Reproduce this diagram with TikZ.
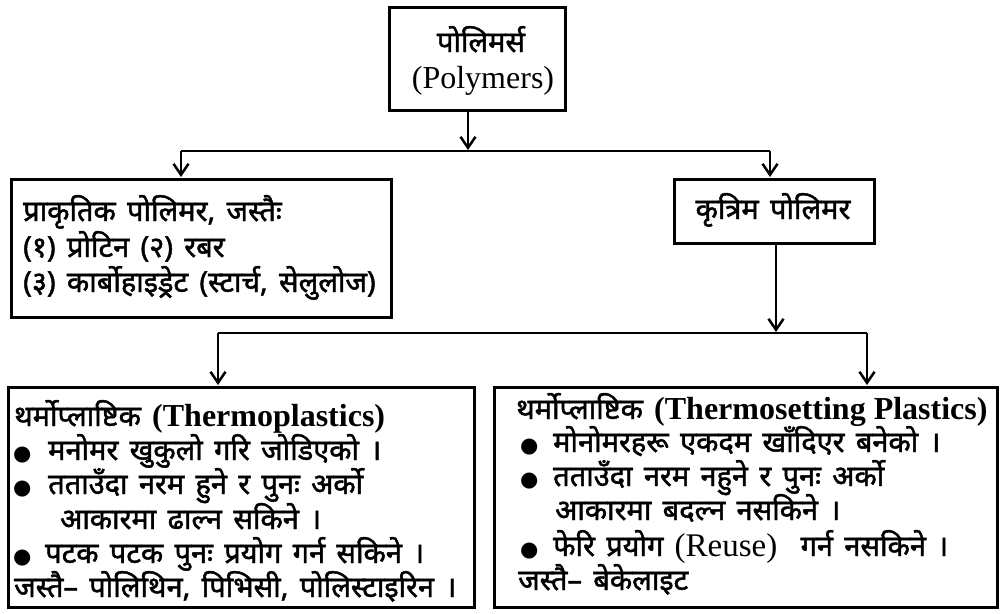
\documentclass[tikz,border=0pt]{standalone}
\usepackage{fontspec}
\setmainfont{Liberation Serif}
\newfontfamily\dev[Script=Devanagari, FakeBold=1.6, WordSpace=1.5]{Noto Sans}
\newfontfamily\sym{DejaVu Sans}
\usetikzlibrary{arrows.meta}
\tikzset{
  box/.style={draw, line width=3pt, inner sep=0pt, anchor=north west},
  ln/.style={anchor=base west, inner sep=0pt, font=\dev\fontsize{29}{32}\selectfont},
  bul/.style={anchor=base west, inner sep=0pt, font=\sym\fontsize{21}{24}\selectfont},
  conn/.style={line width=2.5pt},
  arr/.style={conn, -{Straight Barb[length=11pt,width=15pt,line width=2.5pt]}, shorten >=1pt},
}
\newcommand{\latb}[1]{{\rmfamily\bfseries\fontsize{32}{35}\selectfont #1}}
\newcommand{\latr}[1]{{\rmfamily\mdseries\fontsize{33}{35}\selectfont #1}}
\begin{document}
\begin{tikzpicture}[x=1pt,y=-1pt]
\useasboundingbox (0,0) rectangle (1000,613);
% boxes
\node[box, minimum width=176pt, minimum height=103pt] (top) at (388,6) {};
\node[box, minimum width=380pt, minimum height=138pt] (nat) at (10,178) {};
\node[box, minimum width=200pt, minimum height=64pt] (syn) at (673,178) {};
\node[box, minimum width=466pt, minimum height=220pt] (tp) at (7,386) {};
\node[box, minimum width=503pt, minimum height=220pt] (ts) at (493,386) {};
% top text
\node[ln, anchor=base] (t1) at (481,52) {पोलिमर्स};
\node[anchor=base, inner sep=0pt, font=\fontsize{32}{36}\selectfont] (t2) at (483,88) {(Polymers)};
% natural
\node[ln] (n1) at (23,221) {प्राकृतिक पोलिमर, जस्तैः};
\node[ln] (n2) at (23,257) {(१) प्रोटिन (२) रबर};
\node[ln] (n3) at (23,292) {(३) कार्बोहाइड्रेट (स्टार्च, सेलुलोज)};
% synthetic
\node[ln, anchor=base] (s1) at (773,219) {कृत्रिम पोलिमर};
% thermoplastics
\node[ln] (a1) at (14,426) {थर्मोप्लाष्टिक \latb{(Thermoplastics)}};
\node[bul] (ab1) at (13,460) {●};
\node[ln] (a2) at (48,460) {मनोमर खुकुलो गरि जोडिएको ।};
\node[bul] (ab2) at (13,494) {●};
\node[ln] (a3) at (48,494) {तताउँदा नरम हुने र पुनः अर्को};
\node[ln] (a4) at (60,529) {आकारमा ढाल्न सकिने ।};
\node[bul] (ab3) at (13,563) {●};
\node[ln] (a5) at (45,563) {पटक पटक पुनः प्रयोग गर्न सकिने ।};
\node[ln] (a6) at (14,597) {जस्तै– पोलिथिन, पिभिसी, पोलिस्टाइरिन ।};
% thermosetting
\node[ln] (b1) at (516,419) {थर्मोप्लाष्टिक \latb{(Thermosetting Plastics)}};
\node[bul] (bb1) at (520,452) {●};
\node[ln] (b2) at (553,452) {मोनोमरहरू एकदम खाँदिएर बनेको ।};
\node[bul] (bb2) at (520,486) {●};
\node[ln] (b3) at (553,486) {तताउँदा नरम नहुने र पुनः अर्को};
\node[ln] (b4) at (555,520) {आकारमा बदल्न नसकिने ।};
\node[bul] (bb3) at (520,556) {●};
\node[ln] (b5) at (553,556) {फेरि प्रयोग \latr{(Reuse)}\hspace{12pt} गर्न नसकिने ।};
\node[ln] (b6) at (518,590) {जस्तै– बेकेलाइट};
% connectors
\coordinate (j1) at (468,151);
\coordinate (l1) at (181,151);
\coordinate (r1) at (770,151);
\draw[arr] (top.south -| j1) -- (j1);
\draw[conn] (l1) -- (r1);
\draw[arr] (l1) -- (l1 |- nat.north);
\draw[arr] (r1) -- (r1 |- syn.north);
\coordinate (j2) at (776,333);
\coordinate (l2) at (218,333);
\coordinate (r2) at (867,333);
\draw[arr] (syn.south -| j2) -- (j2);
\draw[conn] (l2) -- (r2);
\draw[arr] (l2) -- (l2 |- tp.north);
\draw[arr] (r2) -- (r2 |- ts.north);
\end{tikzpicture}
\end{document}
